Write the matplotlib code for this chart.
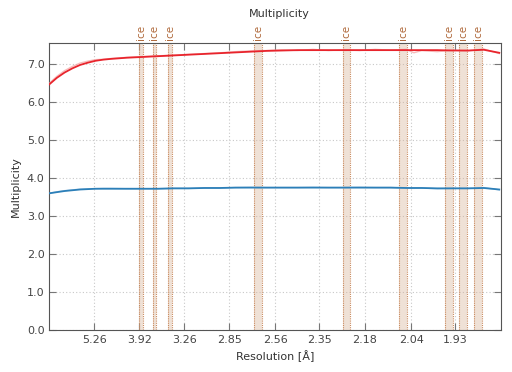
import numpy as np
import matplotlib
matplotlib.use('Agg')
from matplotlib import pyplot as plt

# resolution bins, given as 1/d^2 (1/A^2)
inv_d2 = [0.0072, 0.012, 0.017, 0.022, 0.027, 0.032, 0.037, 0.042, 0.047, 0.057,
          0.067, 0.077, 0.087, 0.097, 0.107, 0.117, 0.127, 0.137, 0.147, 0.157,
          0.167, 0.177, 0.187, 0.197, 0.207, 0.217, 0.227, 0.237, 0.242, 0.247,
          0.257, 0.267, 0.277, 0.287, 0.297]
mult_hi_raw = [6.50, 6.68, 6.83, 6.94, 7.03, 7.08, 7.12, 7.13, 7.15, 7.18,
               7.20, 7.22, 7.24, 7.26, 7.28, 7.30, 7.33, 7.35, 7.36, 7.38,
               7.36, 7.39, 7.36, 7.38, 7.36, 7.39, 7.37, 7.39, 7.30, 7.36,
               7.33, 7.37, 7.35, 7.40, 7.28]
mult_hi_fit = [6.47, 6.64, 6.78, 6.89, 6.98, 7.04, 7.09, 7.12, 7.14, 7.17,
               7.19, 7.21, 7.23, 7.25, 7.27, 7.29, 7.31, 7.33, 7.35, 7.36,
               7.37, 7.37, 7.37, 7.37, 7.37, 7.37, 7.37, 7.37, 7.37, 7.37,
               7.37, 7.36, 7.36, 7.38, 7.30]
mult_lo_raw = [3.60, 3.64, 3.67, 3.69, 3.71, 3.72, 3.72, 3.73, 3.73, 3.72,
               3.72, 3.72, 3.73, 3.73, 3.74, 3.74, 3.75, 3.76, 3.75, 3.75,
               3.75, 3.76, 3.75, 3.75, 3.76, 3.75, 3.75, 3.74, 3.73, 3.74,
               3.72, 3.73, 3.73, 3.75, 3.69]
mult_lo_fit = [3.60, 3.63, 3.66, 3.68, 3.70, 3.71, 3.72, 3.72, 3.72, 3.72,
               3.72, 3.72, 3.73, 3.73, 3.74, 3.74, 3.75, 3.75, 3.75, 3.75,
               3.75, 3.75, 3.75, 3.75, 3.75, 3.75, 3.75, 3.74, 3.74, 3.74,
               3.73, 3.73, 3.73, 3.74, 3.70]
# ice rings: centre (A) and width in 1/d^2
ice_d = [3.883, 3.654, 3.436, 2.658, 2.245, 2.063, 1.944, 1.912, 1.879]
ice_w = [0.0026, 0.0024, 0.0026, 0.0048, 0.0047, 0.0053, 0.0053, 0.0050, 0.0050]
xtick_labels = ['5.26', '3.92', '3.26', '2.85', '2.56', '2.35', '2.18', '2.04', '1.93']
ytick_vals = [0, 1, 2, 3, 4, 5, 6, 7]

fig = plt.figure(figsize=(5.12, 3.72), dpi=100)
ax = fig.add_axes([0.0963, 0.1129, 0.8822, 0.7707])

for d, w in zip(ice_d, ice_w):
    c = 1. / d**2
    ax.axvspan(c - w/2, c + w/2, facecolor='#d9b49a', alpha=0.4, lw=0, zorder=1)
    for e in (c - w/2, c + w/2):
        ax.axvline(e, color='#c98a5e', ls=(0, (1, 1)), lw=0.8, zorder=1)
    ax.text(c, 1.01, 'ice', rotation=90, ha='center', va='bottom', fontsize=7.5,
            color='#b06a3c', transform=ax.get_xaxis_transform())

ax.plot(inv_d2, mult_hi_raw, color='#f4a0a0', lw=1, alpha=0.7, zorder=3)
ax.plot(inv_d2, mult_hi_fit, color='#e8242c', lw=1.3, zorder=4)
ax.plot(inv_d2, mult_lo_raw, color='#9cc3e4', lw=1, alpha=0.7, zorder=3)
ax.plot(inv_d2, mult_lo_fit, color='#2c7fb8', lw=1.3, zorder=4)

xt = [1. / float(s)**2 for s in xtick_labels]
ax.set_xticks(xt)
ax.set_xticklabels(xtick_labels)
ax.set_yticks(ytick_vals)
ax.set_yticklabels(['%.1f' % v for v in ytick_vals])
ax.set_xlim(0.00716, 0.2981)
ax.set_ylim(0, 7.55)
ax.grid(True, ls=(0, (1, 2)), color='#c8c8c8', lw=0.8)
ax.set_axisbelow(True)
ax.tick_params(direction='in', top=True, right=True, length=5, width=0.8,
               colors='#777777', labelcolor='#444444', labelsize=8)
for sp in ax.spines.values():
    sp.set_color('#555555')
ax.set_xlabel('Resolution [Å]', fontsize=8, color='#333333')
ax.set_ylabel('Multiplicity', fontsize=8, color='#333333')
fig.text(0.545, 0.962, 'Multiplicity', ha='center', va='center', fontsize=8, color='#333333')
plt.savefig('out.png')
